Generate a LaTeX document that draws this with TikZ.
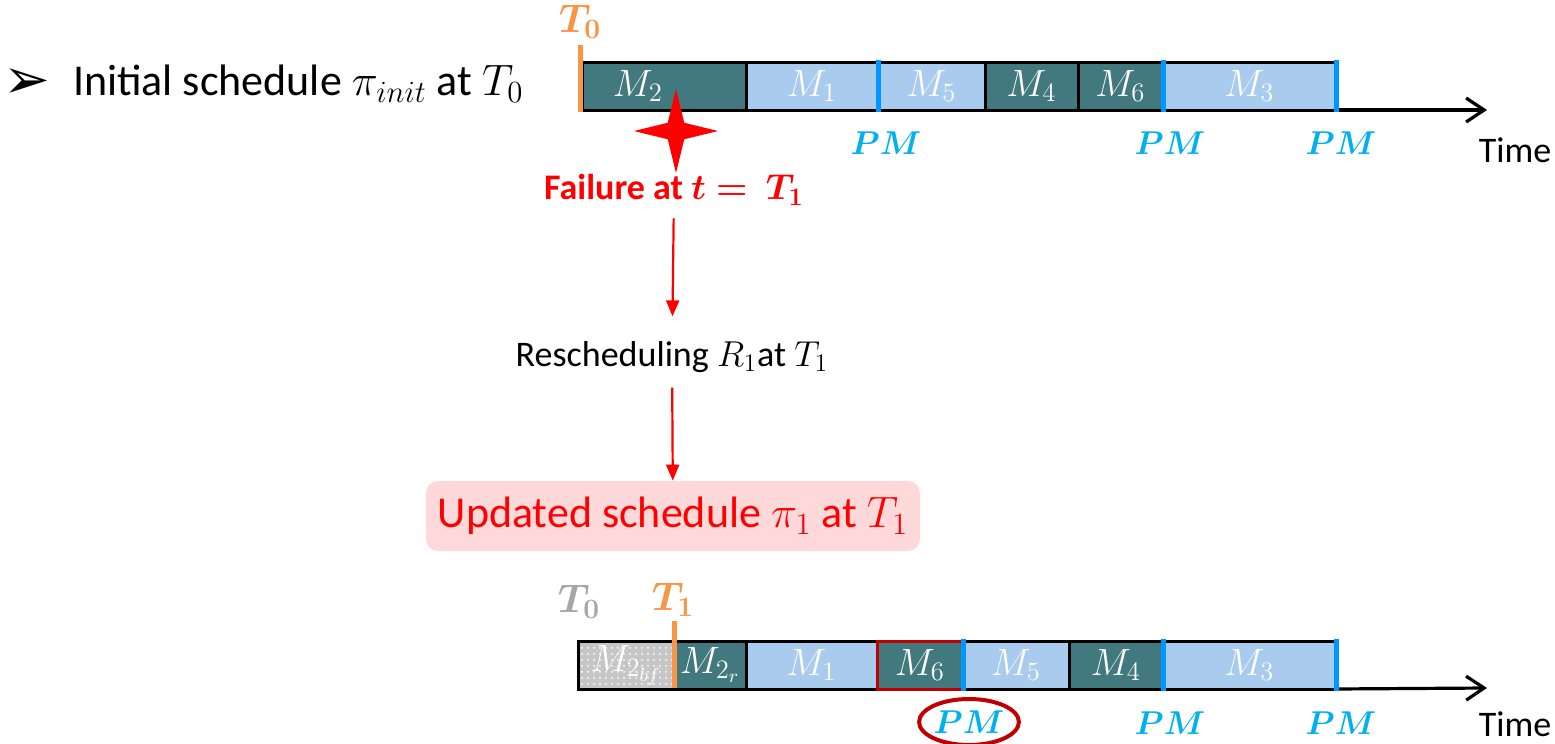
\documentclass[tikz,border=0pt]{standalone}
\usepackage{fix-cm}
\usepackage{amsmath,bm}
\usepackage{fontspec}
\setmainfont{Carlito}
\newfontfamily\symfont{DejaVu Sans}
\usetikzlibrary{arrows.meta,shapes.geometric,patterns,positioning}

\definecolor{jobdark}{HTML}{41797F}
\definecolor{joblight}{HTML}{A9CBEE}
\definecolor{pmblue}{HTML}{0096FF}
\definecolor{pmtext}{HTML}{00B0F0}
\definecolor{torange}{HTML}{F79646}
\definecolor{failred}{HTML}{FF0000}
\definecolor{darkred}{HTML}{C00000}
\definecolor{boxpink}{HTML}{FFD9D9}

\tikzset{
    cell/.style={draw=black, line width=1.5pt, minimum height=24pt, inner sep=0pt, outer sep=0pt,
        minimum width=#1*0.5pt, text=white, font=\fontsize{19}{21}\selectfont},
    darkjob/.style={cell=#1, fill=jobdark},
    lightjob/.style={cell=#1, fill=joblight},
    bfjob/.style={cell=#1, preaction={fill=gray!45}, pattern=dots, pattern color=white},
    pmline/.style={draw=pmblue, line width=2.5pt},
    pmlab/.style={text=pmtext, font=\fontsize{16.5}{18}\selectfont},
    tline/.style={draw=torange, line width=2.5pt},
    tlab/.style={font=\fontsize{20}{22}\selectfont},
    timeaxis/.style={draw=black, line width=1.6pt, -{Straight Barb[length=9pt,width=12pt,line width=1.6pt]}},
    timelab/.style={font=\fontsize{18}{20}\selectfont},
    redarrow/.style={draw=failred, line width=1.1pt, -{Triangle[length=8pt,width=6.5pt]}},
    failstar/.style={star, star points=4, star point ratio=3.6, fill=failred, draw=none,
        minimum size=42pt, inner sep=0pt},
    updbox/.style={fill=boxpink, rounded corners=6pt, minimum width=247pt, minimum height=35pt,
        text=failred, font=\fontsize{22}{24}\selectfont},
}

\begin{document}
\begin{tikzpicture}[x=0.5pt, y=-0.5pt]
    \useasboundingbox (0,0) rectangle (1555,744);

    \node[font=\fontsize{28}{30}\symfont, inner sep=0pt] (bullet) at (27,84) {➢};
    \node[anchor=west, font=\fontsize{22}{26}\selectfont] (init) at (66,84) {Initial schedule $\pi_{init}$ at $T_0$};

    \node[darkjob=164, anchor=west] (m2) at (582,86) {$M_2$\rule{26pt}{0pt}};
    \node[lightjob=132, right=0pt of m2] (m1) {$M_1$};
    \node[lightjob=107, right=0pt of m1] (m5) {$M_5$};
    \node[darkjob=93, right=0pt of m5] (m4) {$M_4$};
    \node[darkjob=85, right=0pt of m4] (m6) {$M_6$};
    \node[lightjob=173, right=0pt of m6] (m3) {$M_3$};
    \coordinate (axisend) at (1487,110);
    \draw[timeaxis] (m3.south east) -- (axisend);
    \node[timelab] (time) at (1515,150) {Time};

    \draw[pmline] ([yshift=1pt]m1.north east) -- ([yshift=-1pt]m1.south east);
    \draw[pmline] ([yshift=1pt]m6.north east) -- ([yshift=-1pt]m6.south east);
    \draw[pmline] ([yshift=1pt]m3.north east) -- ([yshift=-1pt]m3.south east);
    \node[pmlab] (pma) at ([xshift=4pt,yshift=-16.5pt]m1.south east) {$\bm{PM}$};
    \node[pmlab] (pmb) at ([xshift=3.5pt,yshift=-16.5pt]m6.south east) {$\bm{PM}$};
    \node[pmlab] (pmc) at ([xshift=2.5pt,yshift=-16.5pt]m3.south east) {$\bm{PM}$};

    \draw[tline] (580,45) -- (580,112);
    \node[tlab, text=torange] (t0) at (580,22) {$\bm{T_0}$};

    \node[failstar] (star) at (676,131) {};
    \node[text=failred, font=\bfseries\fontsize{18}{20}\selectfont] (fail) at (674,190) {Failure at $\bm{t=\ T_1}$};
    \node[font=\fontsize{18}{20}\selectfont] (resch) at (672,357) {Rescheduling $R_1$at $T_1$};
    \node[updbox] (upd) at (673,516) {Updated schedule $\pi_1$ at $T_1$};
    \draw[redarrow, shorten <=3pt, shorten >=9pt] (fail) -- (resch);
    \draw[redarrow, shorten <=4pt] (resch) -- (upd);

    \node[bfjob=96, anchor=west] (b2bf) at (578,665) {$M_{2_{bf}}$};
    \node[darkjob=72, right=0pt of b2bf] (b2r) {$M_{2_r}$};
    \node[lightjob=131, right=0pt of b2r] (b1) {$M_1$};
    \node[darkjob=86, right=0pt of b1, draw=darkred] (b6) {$M_6$};
    \node[lightjob=106, right=0pt of b6] (b5) {$M_5$};
    \node[darkjob=94, right=0pt of b5] (b4) {$M_4$};
    \node[lightjob=173, right=0pt of b4] (b3) {$M_3$};
    \coordinate (axisendb) at (1487,688);
    \draw[timeaxis] (b3.south east) -- (axisendb);
    \node[timelab] (timeb) at (1515,724) {Time};

    \draw[pmline] ([yshift=1pt]b6.north east) -- ([yshift=-1pt]b6.south east);
    \draw[pmline] ([yshift=1pt]b4.north east) -- ([yshift=-1pt]b4.south east);
    \draw[pmline] ([yshift=1pt]b3.north east) -- ([yshift=-1pt]b3.south east);
    \node[pmlab, ellipse, draw=darkred, line width=2pt, minimum width=48pt, minimum height=23pt, inner sep=0pt] (pmd) at ([xshift=3pt,yshift=-16.5pt]b6.south east) {$\bm{PM}$};
    \node[pmlab] (pme) at ([xshift=3.5pt,yshift=-17pt]b4.south east) {$\bm{PM}$};
    \node[pmlab] (pmf) at ([xshift=2.5pt,yshift=-17pt]b3.south east) {$\bm{PM}$};

    \draw[tline] (674,621) -- (674,688);
    \node[tlab, text=gray!70] (t0b) at (579,602) {$\bm{T_0}$};
    \node[tlab, text=torange] (t1b) at (673,600) {$\bm{T_1}$};
\end{tikzpicture}
\end{document}
